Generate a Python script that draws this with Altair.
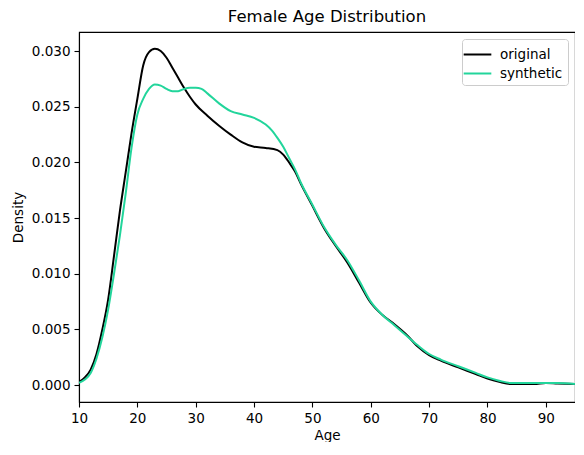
import altair as alt
import pandas as pd

# ---- data ----
ages_original = [10, 11, 12, 13, 14, 15, 16, 17, 18, 19, 20, 21, 22, 23, 24, 25, 26, 27, 28, 29, 30,
                 32, 34, 36, 38, 40, 42, 44, 45, 46, 47, 48, 50, 52, 54, 56, 58, 60, 62, 64, 66, 68,
                 70, 72, 75, 78, 80, 82, 84, 86, 88, 90, 92, 95]
dens_original = [0.0003, 0.0007, 0.0014, 0.0028, 0.0050, 0.0077, 0.0116, 0.0156, 0.0191, 0.0226,
                 0.0257, 0.0287, 0.0299, 0.0302, 0.0300, 0.0294, 0.0285, 0.0276, 0.0267, 0.0259,
                 0.0252, 0.0242, 0.0233, 0.0225, 0.0218, 0.0214, 0.0213, 0.0211, 0.0207, 0.0200,
                 0.0192, 0.0181, 0.0161, 0.0141, 0.0125, 0.0110, 0.0092, 0.0074, 0.0063, 0.0055,
                 0.0046, 0.0035, 0.0027, 0.0022, 0.0016, 0.0010, 0.0006, 0.0003, 0.0001, 0.0001,
                 0.0001, 0.0002, 0.00015, 0.0001]

ages_synthetic = [10, 11, 12, 13, 14, 15, 16, 17, 18, 19, 20, 21, 22, 23, 24, 25, 26, 27, 28, 29, 30,
                  31, 32, 34, 36, 38, 40, 42, 43, 44, 45, 46, 47, 48, 50, 52, 54, 56, 58, 60, 62, 64,
                  66, 68, 70, 72, 75, 78, 80, 82, 84, 86, 88, 90, 92, 95]
dens_synthetic = [0.0002, 0.0005, 0.0011, 0.0024, 0.0043, 0.0068, 0.0100, 0.0134, 0.0172, 0.0213,
                  0.0243, 0.0257, 0.0266, 0.0270, 0.0269, 0.0266, 0.0264, 0.0264, 0.0266, 0.0267,
                  0.0267, 0.0266, 0.0262, 0.0253, 0.0246, 0.0243, 0.0240, 0.0234, 0.0229, 0.0222,
                  0.0214, 0.0204, 0.0194, 0.0182, 0.0162, 0.0142, 0.0126, 0.0112, 0.0094, 0.0075,
                  0.0063, 0.0054, 0.0045, 0.0036, 0.0028, 0.0023, 0.0017, 0.0011, 0.0007, 0.0004,
                  0.0002, 0.0002, 0.0002, 0.0002, 0.0002, 0.0001]

series_names = ["original", "synthetic"]
series_colors = ["#000000", "#22d59b"]
x_ticks = [10, 20, 30, 40, 50, 60, 70, 80, 90]
y_ticks = [0.0, 0.005, 0.010, 0.015, 0.020, 0.025, 0.030]
title_text = "Female Age Distribution"

df = pd.concat([
    pd.DataFrame({"Age": ages_original, "Density": dens_original, "series": "original"}),
    pd.DataFrame({"Age": ages_synthetic, "Density": dens_synthetic, "series": "synthetic"}),
], ignore_index=True)

FONT = "DejaVu Sans"
W, H = 496, 370

lines = alt.Chart(df).mark_line(strokeWidth=2, clip=True, interpolate="monotone").encode(
    x=alt.X("Age:Q",
            scale=alt.Scale(domain=[10, 95], nice=False, zero=False),
            axis=alt.Axis(values=x_ticks, title="Age", grid=False, tickSize=5, labelPadding=4,
                          titlePadding=4, format="d", labelFlush=False, labelOverlap=False)),
    y=alt.Y("Density:Q",
            scale=alt.Scale(domain=[-0.00151, 0.03171], nice=False, zero=False),
            axis=alt.Axis(values=y_ticks, title="Density", grid=False, tickSize=5, labelPadding=4,
                          titlePadding=6, format=".3f", labelFlush=False, labelOverlap=False)),
    color=alt.Color("series:N",
                    scale=alt.Scale(domain=series_names, range=series_colors),
                    legend=alt.Legend(title=None, orient="top-right", offset=7,
                                      symbolType="M-1.5,0H1.5", symbolStrokeWidth=2, symbolSize=340,
                                      symbolFillColor="transparent",
                                      labelFontSize=13.5, labelFont=FONT, labelColor="black",
                                      strokeColor="#cccccc", fillColor="white", cornerRadius=3,
                                      padding=5, rowPadding=2, labelOffset=12)),
)

title = alt.Chart(pd.DataFrame({"t": [title_text]})).mark_text(
    font=FONT, fontSize=16.5, color="black", baseline="bottom", align="center", clip=False
).encode(text="t:N", x=alt.value(W / 2), y=alt.value(-7))

chart = alt.layer(lines, title).properties(
    width=W, height=H,
    autosize=alt.AutoSizeParams(type="none"),
    padding={"left": 71, "top": 24, "right": 0, "bottom": 40},
).configure_axis(
    labelFont=FONT, titleFont=FONT, labelFontSize=13.5, titleFontSize=13.5,
    labelColor="black", titleColor="black", titleFontWeight="normal",
    domainColor="black", tickColor="black", domainWidth=1.1, tickWidth=1.1,
).configure_view(stroke="black", strokeWidth=1.1)

chart.save("out.html", embed_options={"renderer": "svg", "actions": False})
